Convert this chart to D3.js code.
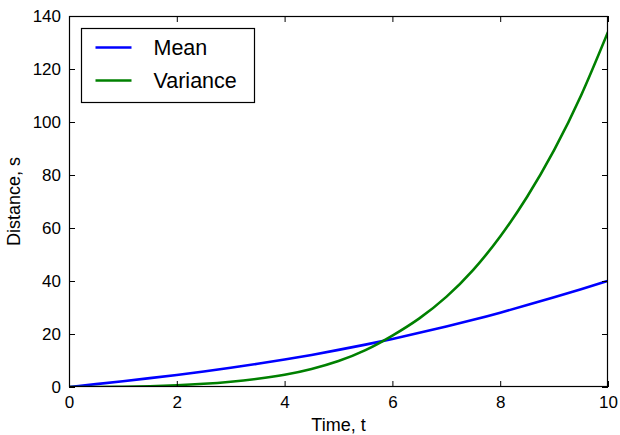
<!DOCTYPE html>
<html>
<head>
<meta charset="utf-8">
<script src="https://cdn.jsdelivr.net/npm/d3@7"></script>
<style>
  body { margin: 0; background: #fff; }
  svg { display: block; font-family: "Liberation Sans", Arial, sans-serif; }
</style>
</head>
<body>
<script>
// values
var times = [0, 0.5, 1, 1.5, 2, 2.5, 3, 3.5, 4, 4.5, 5, 5.5, 6, 6.5, 7, 7.5, 8, 8.5, 9, 9.5, 10];
var meanValues = [0, 1.1, 2.2, 3.35, 4.55, 5.85, 7.25, 8.75, 10.35, 12.1, 14.0, 16.0, 18.15, 20.45, 22.85, 25.35, 28.05, 30.9, 33.85, 36.9, 40.05];
var varianceValues = [0, 0.01, 0.1, 0.3, 0.65, 1.2, 2.0, 3.1, 4.6, 6.8, 9.8, 13.9, 19.4, 25.9, 34.0, 44.2, 56.8, 71.8, 89.4, 110, 134];
var xTicks = [0, 2, 4, 6, 8, 10];
var yTicks = [0, 20, 40, 60, 80, 100, 120, 140];
var seriesNames = ["Mean", "Variance"];
var seriesColors = ["#0000ff", "#008000"];

var width = 620,
    height = 435,
    margin = {top: 16, right: 12, bottom: 48, left: 69};

var svg = d3.select("body")
    .append("svg")
    .attr("width", width)
    .attr("height", height);

var x = d3.scaleLinear()
    .domain([0, 10])
    .range([margin.left, width - margin.right]);

var y = d3.scaleLinear()
    .domain([0, 140])
    .range([height - margin.bottom, margin.top]);

var series = [meanValues, varianceValues].map(function (vals, i) {
    return {
        name: seriesNames[i],
        color: seriesColors[i],
        points: times.map(function (t, j) { return [t, vals[j]]; })
    };
});

var line = d3.line()
    .x(function (d) { return x(d[0]); })
    .y(function (d) { return y(d[1]); })
    .curve(d3.curveNatural);

// clip so lines stay in the frame
svg.append("clipPath")
    .attr("id", "plot")
    .append("rect")
    .attr("x", margin.left)
    .attr("y", margin.top)
    .attr("width", width - margin.left - margin.right)
    .attr("height", height - margin.top - margin.bottom);

svg.append("g")
    .attr("clip-path", "url(#plot)")
    .selectAll("path")
    .data(series)
    .enter().append("path")
    .attr("d", function (d) { return line(d.points); })
    .attr("fill", "none")
    .attr("stroke", function (d) { return d.color; })
    .attr("stroke-width", 2.6);

// axes, ticks pointing inward on all four sides
function styleAxis(g) {
    g.select(".domain").remove();
    g.selectAll(".tick line").attr("stroke", "#000");
    g.selectAll(".tick text")
        .attr("fill", "#000")
        .style("font-size", "17px");
}

svg.append("g")
    .attr("transform", "translate(0," + (height - margin.bottom) + ")")
    .call(d3.axisBottom(x).tickValues(xTicks).tickSizeInner(-6).tickPadding(9))
    .call(styleAxis);

svg.append("g")
    .attr("transform", "translate(0," + margin.top + ")")
    .call(d3.axisTop(x).tickValues(xTicks).tickSizeInner(-6).tickFormat(""))
    .call(styleAxis);

svg.append("g")
    .attr("transform", "translate(" + margin.left + ",0)")
    .call(d3.axisLeft(y).tickValues(yTicks).tickSizeInner(-6).tickPadding(8))
    .call(styleAxis);

svg.append("g")
    .attr("transform", "translate(" + (width - margin.right) + ",0)")
    .call(d3.axisRight(y).tickValues(yTicks).tickSizeInner(-6).tickFormat(""))
    .call(styleAxis);

svg.append("rect")
    .attr("x", margin.left + 0.5)
    .attr("y", margin.top + 0.5)
    .attr("width", width - margin.left - margin.right - 1)
    .attr("height", height - margin.top - margin.bottom - 1)
    .attr("fill", "none")
    .attr("stroke", "#000")
    .attr("stroke-width", 1.2);

// axis labels
svg.append("text")
    .attr("x", (margin.left + width - margin.right) / 2)
    .attr("y", 431)
    .attr("text-anchor", "middle")
    .style("font-size", "18px")
    .text("Time, t");

svg.append("text")
    .attr("transform", "translate(20," + (margin.top + height - margin.bottom) / 2 + ") rotate(-90)")
    .attr("text-anchor", "middle")
    .style("font-size", "18px")
    .text("Distance, s");

// legend
var legend = svg.append("g")
    .attr("transform", "translate(81.5,28.5)");

legend.append("rect")
    .attr("width", 173)
    .attr("height", 74)
    .attr("fill", "#fff")
    .attr("stroke", "#000")
    .attr("stroke-width", 1.2);

var item = legend.selectAll(".item")
    .data(series)
    .enter().append("g")
    .attr("class", "item")
    .attr("transform", function (d, i) { return "translate(0," + (19 + i * 33) + ")"; });

item.append("line")
    .attr("x1", 14)
    .attr("x2", 50)
    .attr("stroke", function (d) { return d.color; })
    .attr("stroke-width", 2.6);

item.append("text")
    .attr("x", 72)
    .attr("y", 7.5)
    .style("font-size", "21.5px")
    .text(function (d) { return d.name; });
</script>
</body>
</html>
